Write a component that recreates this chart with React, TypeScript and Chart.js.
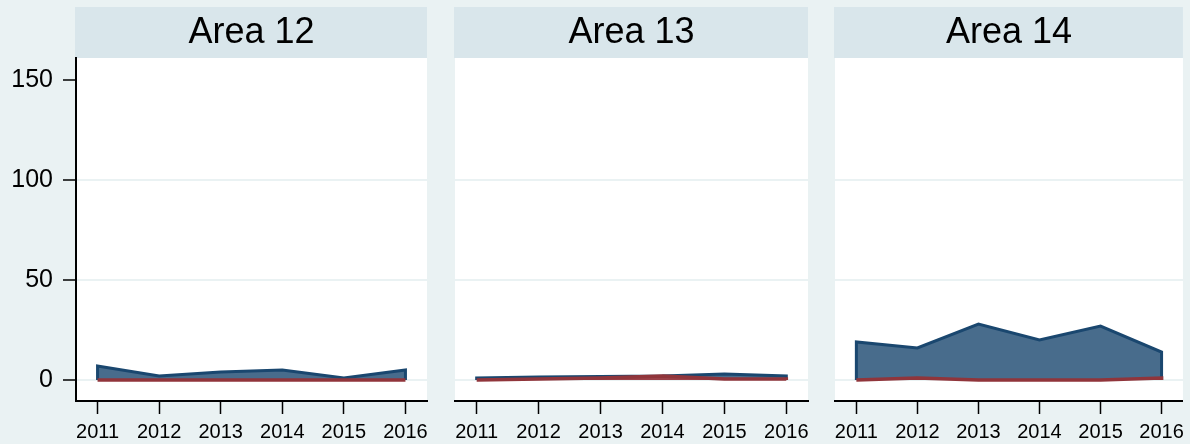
import React, { useEffect, useRef } from "react";
import { Chart, registerables } from "chart.js";

Chart.register(...registerables);

// ---- data ----
const years = [2011, 2012, 2013, 2014, 2015, 2016];
const panelTitles = ["Area 12", "Area 13", "Area 14"];
const area12Navy = [7, 2, 4, 5, 1, 5];
const area12Maroon = [0, 0, 0, 0, 0, 0];
const area13Navy = [1, 1.5, 1.8, 2, 3, 2];
const area13Maroon = [0, 0.5, 1, 2, 0.5, 0.5];
const area14Navy = [19, 16, 28, 20, 27, 14];
const area14Maroon = [0, 1, 0, 0, 0, 1];
const yTickValues = [0, 50, 100, 150];

// ---- styles ----
const W = 1190;
const H = 444;
const BG = "#EAF2F3";
const HEADER = "#D9E6EB";
const GRID = "#EAF2F3";
const NAVY = "#1A476F";
const NAVY_FILL = "#486C8C";
const MAROON = "#90353B";
const MAROON_FILL = "#9A4048";
const FONT = "'Liberation Sans', Arial, Helvetica, sans-serif";

const panels = [
  { title: panelTitles[0], navy: area12Navy, maroon: area12Maroon, left: 0, right: W - 427, yAxis: true },
  { title: panelTitles[1], navy: area13Navy, maroon: area13Maroon, left: 455, right: W - 808, yAxis: false },
  { title: panelTitles[2], navy: area14Navy, maroon: area14Maroon, left: 835, right: W - 1187, yAxis: false },
];

const headerPlugin = {
  id: "panelHeader",
  beforeDraw(chart: any, _args: any, opts: any) {
    const { ctx, chartArea } = chart;
    const { left, right, top, bottom } = chartArea;
    ctx.save();
    ctx.fillStyle = HEADER;
    ctx.fillRect(left - 1, 7, right - left + 1, top - 7);
    ctx.fillStyle = "#FFFFFF";
    ctx.fillRect(left, top, right - left, bottom - top);
    ctx.fillStyle = "#000000";
    ctx.font = `36px ${FONT}`;
    ctx.textAlign = "center";
    ctx.textBaseline = "alphabetic";
    ctx.fillText(opts.text, (left + right) / 2, 43);
    ctx.restore();
  },
};

function areaPoints(values: number[]) {
  const pts = years.map((yr, i) => ({ x: yr, y: values[i] }));
  return [{ x: years[0], y: 0 }, ...pts, { x: years[years.length - 1], y: 0 }];
}

export default function App() {
  const refs = [useRef<HTMLCanvasElement>(null), useRef<HTMLCanvasElement>(null), useRef<HTMLCanvasElement>(null)];

  useEffect(() => {
    Chart.defaults.font.family = FONT;
    const charts = panels.map((p, idx) => {
      const canvas = refs[idx].current!;
      return new Chart(canvas, {
        type: "line",
        data: {
          datasets: [
            {
              data: areaPoints(p.maroon),
              borderColor: MAROON,
              backgroundColor: MAROON_FILL,
              borderWidth: 3.5,
              fill: "origin",
              pointRadius: 0,
              tension: 0,
              order: 0,
            },
            {
              data: areaPoints(p.navy),
              borderColor: NAVY,
              backgroundColor: NAVY_FILL,
              borderWidth: 3,
              fill: "origin",
              pointRadius: 0,
              tension: 0,
              order: 1,
            },
          ],
        },
        options: {
          animation: false,
          responsive: false,
          devicePixelRatio: 1,
          events: [],
          layout: { padding: { left: p.left, right: p.right, top: 58, bottom: 0 } },
          plugins: {
            legend: { display: false },
            tooltip: { enabled: false },
            title: { display: false },
            panelHeader: { text: p.title },
          } as any,
          scales: {
            x: {
              type: "linear",
              min: 2010.65,
              max: 2016.35,
              afterBuildTicks: (scale: any) => {
                scale.ticks = years.map((v) => ({ value: v }));
              },
              afterFit: (scale: any) => {
                scale.height = 43;
              },
              grid: {
                drawOnChartArea: false,
                drawTicks: true,
                tickLength: 13,
                tickColor: "#000",
                tickWidth: 1.5,
              },
              border: { display: true, color: "#000", width: 2 },
              ticks: {
                autoSkip: false,
                maxRotation: 0,
                color: "#000",
                padding: 6,
                font: { size: 20, family: FONT },
                callback: (v: any) => String(v),
              },
            },
            y: {
              type: "linear",
              min: -10.5,
              max: 161,
              afterBuildTicks: (scale: any) => {
                scale.ticks = yTickValues.map((v) => ({ value: v }));
              },
              afterFit: (scale: any) => {
                scale.width = p.yAxis ? 76 : 0;
              },
              grid: {
                color: (c: any) => (c.tick && c.tick.value === 150 ? "rgba(0,0,0,0)" : GRID),
                lineWidth: 2,
                drawTicks: p.yAxis,
                tickLength: 13,
                tickColor: "#000",
                tickWidth: 1.5,
              },
              border: { display: p.yAxis, color: "#000", width: 2 },
              ticks: {
                display: p.yAxis,
                color: "#000",
                padding: 10,
                font: { size: 25, family: FONT },
                callback: (v: any) => String(v),
              },
            },
          },
        },
        plugins: [headerPlugin],
      } as any);
    });
    return () => charts.forEach((c) => c.destroy());
  }, []);

  return (
    <div
      style={{
        position: "fixed",
        left: 0,
        top: 0,
        width: W,
        height: H,
        background: BG,
        overflow: "hidden",
      }}
    >
      {refs.map((r, i) => (
        <canvas
          key={i}
          ref={r}
          width={W}
          height={H}
          style={{ position: "absolute", left: 0, top: 0, width: W, height: H }}
        />
      ))}
    </div>
  );
}
